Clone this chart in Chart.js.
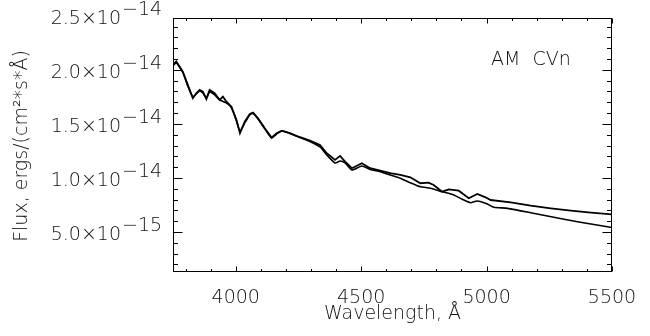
<!DOCTYPE html>
<html><head><meta charset="utf-8">
<script src="https://cdn.jsdelivr.net/npm/chart.js@4/dist/chart.umd.min.js"></script>
<style>html,body{margin:0;padding:0;background:#fff}canvas{display:block}</style>
</head><body>
<canvas id="c" width="650" height="336"></canvas>
<script>
// Observed spectrum of AM CVn (wavelength in Angstrom, flux in erg/cm^2/s/A)
const obsWave = [3750,3763,3789,3809,3829,3843,3856,3869,3883,3896,3916,3936,3949,3963,3983,4003,4017,4036,4056,4069,4089,4116,4143,4163,4184,4216,4256,4296,4336,4363,4396,4416,4436,4463,4503,4536,4576,4616,4656,4696,4736,4769,4789,4823,4849,4889,4929,4963,4996,5016,5096,5176,5256,5336,5416,5500];
const obsFlux = [2.046e-14,2.077e-14,1.984e-14,1.861e-14,1.738e-14,1.784e-14,1.815e-14,1.799e-14,1.729e-14,1.815e-14,1.784e-14,1.722e-14,1.753e-14,1.706e-14,1.660e-14,1.537e-14,1.414e-14,1.521e-14,1.593e-14,1.605e-14,1.553e-14,1.460e-14,1.373e-14,1.414e-14,1.438e-14,1.414e-14,1.377e-14,1.345e-14,1.306e-14,1.229e-14,1.167e-14,1.204e-14,1.151e-14,1.090e-14,1.136e-14,1.090e-14,1.068e-14,1.044e-14,1.028e-14,1.006e-14,0.951e-14,0.956e-14,0.935e-14,0.873e-14,0.895e-14,0.882e-14,0.812e-14,0.852e-14,0.821e-14,0.796e-14,0.775e-14,0.744e-14,0.719e-14,0.697e-14,0.679e-14,0.664e-14];
// Model spectrum
const modelWave = [3750,3763,3789,3809,3829,3843,3856,3869,3883,3896,3916,3936,3963,3983,4003,4017,4036,4056,4069,4089,4116,4143,4163,4184,4216,4256,4296,4336,4363,4396,4416,4436,4463,4503,4536,4576,4616,4656,4696,4736,4776,4823,4869,4903,4936,4963,5003,5029,5083,5176,5309,5416,5500];
const modelFlux = [2.037e-14,2.065e-14,1.977e-14,1.852e-14,1.750e-14,1.778e-14,1.806e-14,1.787e-14,1.741e-14,1.796e-14,1.769e-14,1.722e-14,1.694e-14,1.648e-14,1.528e-14,1.435e-14,1.509e-14,1.583e-14,1.597e-14,1.546e-14,1.454e-14,1.370e-14,1.407e-14,1.435e-14,1.412e-14,1.375e-14,1.338e-14,1.287e-14,1.213e-14,1.139e-14,1.157e-14,1.139e-14,1.074e-14,1.111e-14,1.079e-14,1.058e-14,1.028e-14,0.997e-14,0.956e-14,0.919e-14,0.905e-14,0.873e-14,0.843e-14,0.803e-14,0.771e-14,0.787e-14,0.759e-14,0.729e-14,0.719e-14,0.679e-14,0.618e-14,0.574e-14,0.542e-14];
// Axis ticks
const xTickValues = [4000,4500,5000,5500];
const xTickLabels = ['4000','4500','5000','5500'];
const yTickValues = [0.5e-14,1.0e-14,1.5e-14,2.0e-14,2.5e-14];
const yTickMantissa = ['5.0×10','1.0×10','1.5×10','2.0×10','2.5×10'];
const yTickExponent = ['−15','−14','−14','−14','−14'];
const xTitle = 'Wavelength, Å';
const yTitle = 'Flux, ergs/(cm²*s*Å)';
const objectName = 'AM  CVn';

const FONT = '200 19px "DejaVu Sans", sans-serif';
const INK = '#111';

const toPts = (w, f) => w.map((v, i) => ({x: v, y: f[i]}));

const idlFrame = {
  id: 'idlFrame',
  afterDraw(chart) {
    const {ctx, chartArea: a, scales: {x, y}} = chart;
    ctx.save();
    ctx.strokeStyle = '#000';
    ctx.lineWidth = 1;
    const L = Math.round(a.left) + 0.5, R = Math.round(a.right) - 0.5;
    const T = Math.round(a.top) + 0.5, B = Math.round(a.bottom) - 0.5;
    ctx.strokeRect(L, T, R - L, B - T);
    ctx.beginPath();
    // x ticks: minor every 100, major every 500
    for (let v = Math.ceil(x.min / 100) * 100; v <= x.max; v += 100) {
      const px = Math.round(x.getPixelForValue(v)) + 0.5;
      const len = (v % 500 === 0) ? 5 : 2.5;
      ctx.moveTo(px, B); ctx.lineTo(px, B - len);
      ctx.moveTo(px, T); ctx.lineTo(px, T + len);
    }
    // y ticks: minor every 1e-15, major every 5e-15
    for (let k = Math.ceil(y.min / 1e-15); k * 1e-15 <= y.max; k++) {
      const py = Math.round(y.getPixelForValue(k * 1e-15)) + 0.5;
      const len = (k % 5 === 0) ? 9 : 4.5;
      ctx.moveTo(L, py); ctx.lineTo(L + len, py);
      ctx.moveTo(R, py); ctx.lineTo(R - len, py);
    }
    ctx.stroke();

    ctx.fillStyle = INK;
    ctx.font = FONT;
    // x tick labels
    ctx.textAlign = 'center'; ctx.textBaseline = 'middle';
    xTickValues.forEach((v, i) => {
      ctx.fillText(xTickLabels[i], x.getPixelForValue(v), 298);
    });
    // y tick labels with superscript exponent
    yTickValues.forEach((v, i) => {
      const py = y.getPixelForValue(v);
      ctx.textBaseline = 'alphabetic';
      ctx.textAlign = 'right';
      ctx.fillText(yTickMantissa[i], 121, py + 8);
      ctx.textAlign = 'left';
      ctx.fillText(yTickExponent[i], 122, py - 1);
    });
    // titles
    ctx.textAlign = 'center'; ctx.textBaseline = 'middle';
    ctx.fillText(xTitle, (a.left + a.right) / 2, 314);
    ctx.save();
    ctx.translate(22, 146);
    ctx.rotate(-Math.PI / 2);
    ctx.fillText(yTitle, 0, 0);
    ctx.restore();
    ctx.textAlign = 'left';
    ctx.fillText(objectName, 491, 60);
    ctx.restore();
  }
};

new Chart(document.getElementById('c'), {
  type: 'scatter',
  data: {
    datasets: [
      {label: 'Observed', data: toPts(obsWave, obsFlux), showLine: true, borderColor: '#000', borderWidth: 1.8, pointRadius: 0, tension: 0},
      {label: 'Model', data: toPts(modelWave, modelFlux), showLine: true, borderColor: '#000', borderWidth: 1.6, pointRadius: 0, tension: 0.2}
    ]
  },
  options: {
    responsive: false,
    animation: false,
    devicePixelRatio: 1,
    layout: {padding: {left: 173, top: 18, right: 38, bottom: 64}},
    plugins: {legend: {display: false}, tooltip: {enabled: false}},
    scales: {
      x: {type: 'linear', min: 3750, max: 5500, display: false},
      y: {type: 'linear', min: 0.13e-14, max: 2.48e-14, display: false}
    }
  },
  plugins: [idlFrame]
});
</script>
</body></html>
